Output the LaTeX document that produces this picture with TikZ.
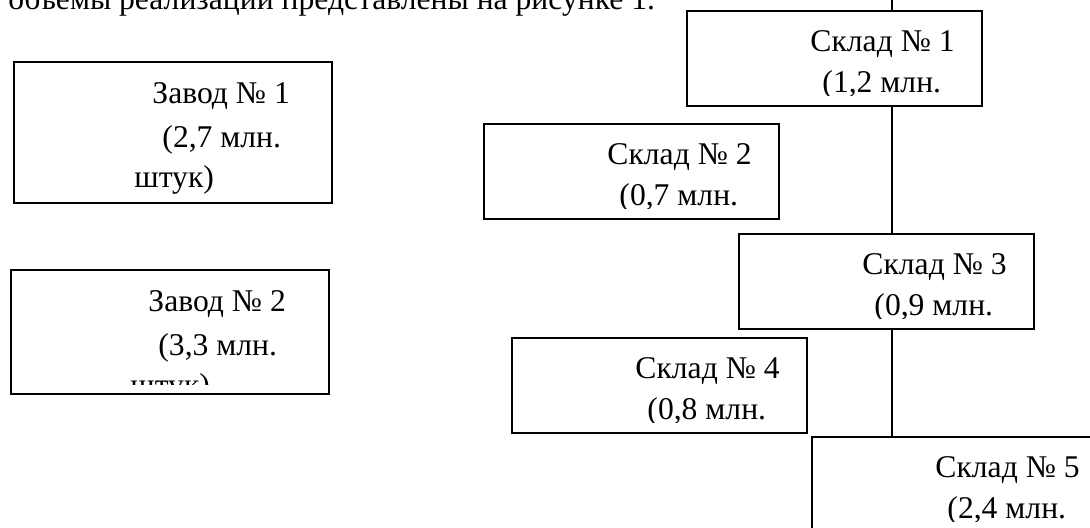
\documentclass[tikz,border=0pt]{standalone}
\usepackage{fontspec}
\setmainfont{Liberation Serif}

\tikzset{
  box/.style={draw, rectangle, line width=0.75pt, inner sep=0pt},
  txt/.style={anchor=base west, inner sep=0pt, font=\fontsize{13.6}{16.5}\selectfont},
}

\begin{document}
\begin{tikzpicture}[x=0.43pt, y=-0.43pt]
\newcommand{\px}{0.43pt}
\newcommand{\zavw}{318}
\newcommand{\skw}{295}
\newcommand{\skh}{95}
\useasboundingbox (0,0) rectangle (1090,527);
\clip (0,0) rectangle (1090,527);

\node[txt] (caption) at (8,9) {объемы реализации представлены на рисунке 1.};

% заводы
\node[box, minimum width=\zavw*\px, minimum height=141*\px] (zavod1) at (173,132.5) {};
\node[txt] (zavod1-name) at (152,103) {Завод № 1};
\node[txt] (zavod1-value) at (162,147) {(2,7 млн.};
\node[txt] (zavod1-unit) at (134,187) {штук)};

\node[box, minimum width=\zavw*\px, minimum height=124*\px] (zavod2) at (170,332) {};
\begin{scope}
  \clip (11,270) rectangle (329,384);
  \node[txt] (zavod2-name) at (148,311) {Завод № 2};
  \node[txt] (zavod2-value) at (158,355) {(3,3 млн.};
  \node[txt] (zavod2-unit) at (130,395) {штук)};
\end{scope}

% склады
\foreach \i/\x/\y/\v in {1/687/11/{1,2}, 2/484/124/{0,7}, 3/739/234/{0,9}, 4/512/338/{0,8}, 5/812/437/{2,4}} {
  \node[box, minimum width=\skw*\px, minimum height=\skh*\px] (sklad\i) at (\x+147.5,\y+47.5) {};
  \begin{scope}
    \clip (\x,\y) rectangle (\x+\skw,\y+84);
    \node[txt] (sklad\i-name) at (\x+123,\y+40) {Склад № \i};
    \node[txt] (sklad\i-value) at (\x+135,\y+81) {(\v{} млн.};
  \end{scope}
}

% вертикальная линия
\coordinate (trunk) at (892,0);
\begin{scope}[line width=0.8pt]
  \draw (trunk) -- (trunk |- sklad1.north);
  \draw (trunk |- sklad1.south) -- (trunk |- sklad3.north);
  \draw (trunk |- sklad3.south) -- (trunk |- sklad5.north);
\end{scope}
\end{tikzpicture}
\end{document}
